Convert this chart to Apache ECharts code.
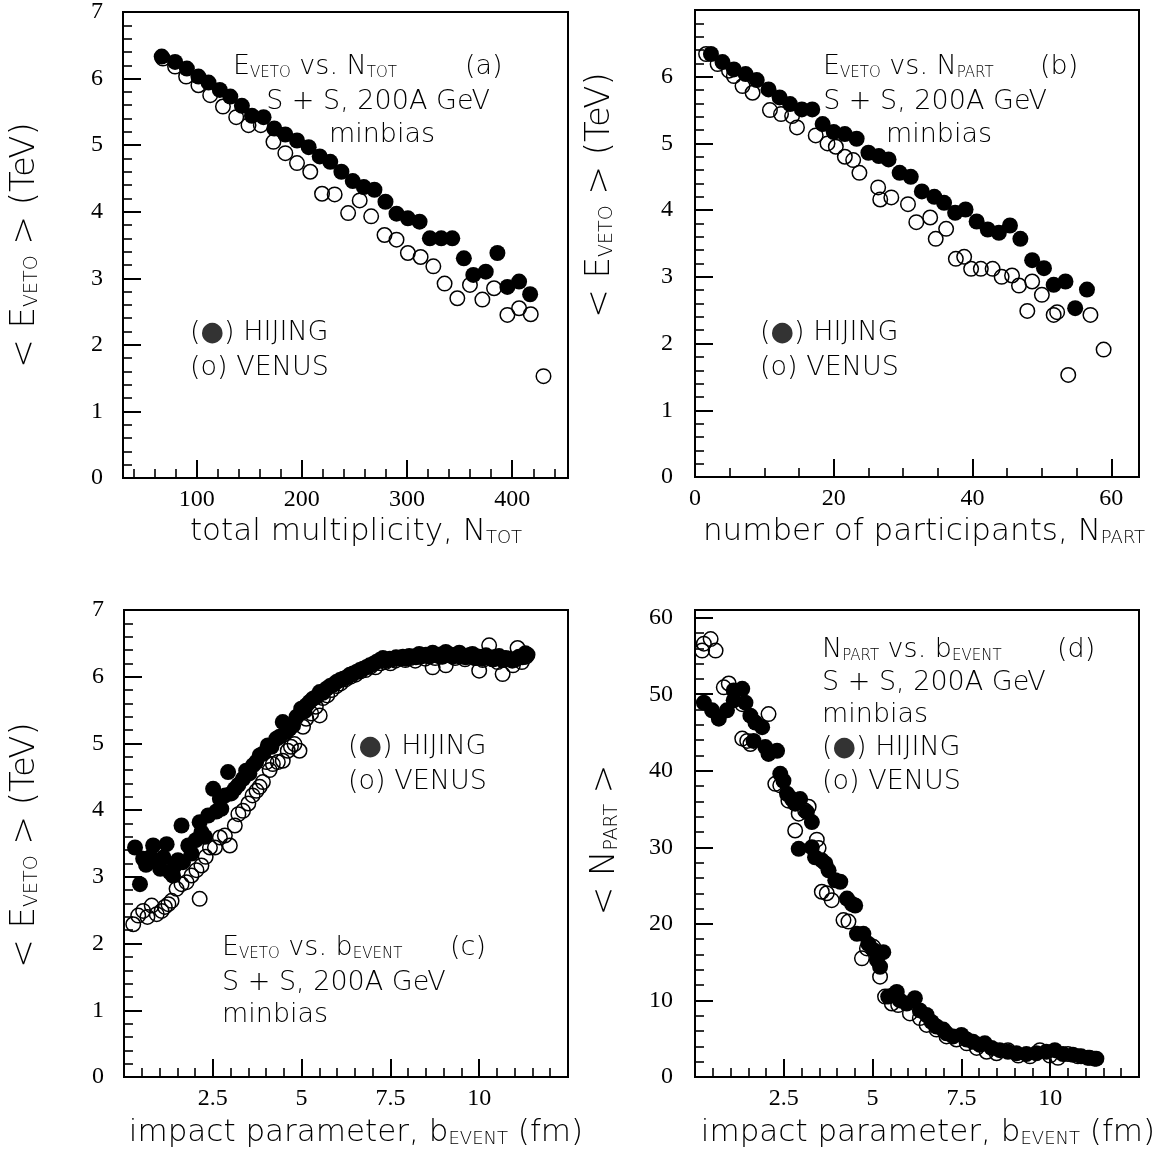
<!DOCTYPE html>
<html><head><meta charset="utf-8">
<script src="https://cdn.jsdelivr.net/npm/echarts@6/dist/echarts.min.js"></script>
<style>html,body{margin:0;padding:0;background:#fff}#c{width:1160px;height:1157px}</style>
</head><body><div id="c"></div>
<script>
// ---------- data: panel (a) <E_VETO> vs N_TOT ----------
const aHijing = [[66.8,6.33],[79.5,6.25],[90.7,6.15],[101.7,6.03],[111.3,5.94],[122,5.83],[132,5.73],[143,5.59],[152.6,5.44],[163.6,5.42],[173.8,5.25],[184.3,5.16],[195.4,5.07],[206.5,4.97],[217,4.83],[227,4.75],[237.6,4.60],[248.4,4.46],[258.9,4.37],[269,4.33],[279.5,4.15],[290,3.97],[300.8,3.90],[311.9,3.85],[321.7,3.60],[332.5,3.60],[343,3.60],[354,3.30],[363,3.05],[374.8,3.10],[385.9,3.38],[395.4,2.87],[406.5,2.95],[417,2.76]];
const aVenus = [[68,6.30],[79.5,6.18],[90,6.03],[101.7,5.90],[112.9,5.75],[125,5.58],[137.6,5.42],[149.3,5.30],[161,5.30],[173,5.05],[184.3,4.88],[195.4,4.73],[208,4.60],[219.2,4.27],[231.2,4.26],[244,3.98],[255,4.17],[265.9,3.93],[278.6,3.65],[290,3.58],[300.8,3.38],[312.9,3.32],[325,3.18],[335.7,2.92],[347.8,2.70],[359.8,2.90],[371.6,2.68],[382.7,2.85],[395.4,2.45],[406.5,2.55],[417.6,2.46],[429.7,1.53]];
// ---------- panel (b) <E_VETO> vs N_PART ----------
const bHijing = [[2.3,6.34],[3.96,6.22],[5.6,6.11],[7.3,6.04],[8.9,5.95],[10.6,5.81],[12.2,5.69],[13.7,5.59],[15.4,5.51],[16.9,5.51],[18.4,5.29],[20,5.17],[21.6,5.14],[23.3,5.07],[25,4.86],[26.5,4.81],[27.9,4.76],[29.5,4.56],[31.1,4.50],[32.7,4.28],[34.5,4.20],[35.9,4.11],[37.5,3.96],[39,4.01],[40.6,3.83],[42.2,3.71],[43.8,3.66],[45.4,3.77],[46.9,3.57],[48.6,3.25],[50.3,3.13],[51.7,2.88],[53.4,2.93],[54.8,2.53],[56.5,2.81]];
const bVenus = [[1.6,6.34],[3.26,6.19],[4.9,6.09],[5.6,6.01],[6.85,5.86],[8.3,5.76],[10.8,5.50],[12.4,5.44],[14.0,5.41],[14.7,5.24],[17.4,5.12],[19.1,5.00],[20.3,4.95],[21.6,4.80],[22.8,4.75],[23.7,4.56],[26.4,4.34],[26.7,4.16],[28.3,4.19],[30.7,4.09],[31.9,3.82],[33.9,3.89],[34.7,3.57],[36.2,3.72],[37.6,3.27],[38.8,3.30],[39.8,3.12],[41.2,3.12],[42.9,3.12],[44.2,3.00],[45.7,3.02],[46.7,2.87],[47.9,2.49],[48.6,2.93],[50.0,2.73],[51.7,2.43],[52.2,2.47],[53.8,1.53],[57.0,2.43],[58.9,1.91]];
// ---------- panel (c) <E_VETO> vs b_EVENT ----------
const cHijing = [[0.31,3.44],[0.45,2.89],[0.54,3.27],[0.62,3.18],[0.75,3.30],[0.82,3.47],[0.92,3.22],[1.02,3.12],[1.11,3.29],[1.20,3.49],[1.29,3.07],[1.38,3.02],[1.43,3.17],[1.52,3.25],[1.62,3.77],[1.66,3.22],[1.81,3.47],[1.90,3.35],[2.02,3.55],[2.13,3.82],[2.18,3.67],[2.28,3.60],[2.37,3.92],[2.51,4.32],[2.60,3.98],[2.70,4.17],[2.74,4.02],[2.85,4.22],[2.93,4.57],[3.02,4.25],[3.12,4.32],[3.22,4.38],[3.35,4.47],[3.44,4.59],[3.53,4.55],[3.63,4.67],[3.72,4.72],[3.82,4.82],[3.92,4.85],[4.05,4.97],[4.15,4.95],[4.29,5.07],[4.38,5.10],[4.47,5.32],[4.57,5.17],[4.66,5.22],[4.76,5.27],[4.86,5.40],[4.99,5.52],[5.08,5.48],[5.13,5.57],[5.22,5.62],[5.32,5.67],[5.42,5.70],[5.51,5.77],[5.60,5.76],[5.70,5.82],[5.80,5.86],[5.89,5.88],[5.98,5.92],[6.08,5.95],[6.17,5.97],[6.26,5.99],[6.36,6.03],[6.45,6.05],[6.54,6.07],[6.64,6.10],[6.73,6.12],[6.82,6.14],[6.92,6.17],[7.01,6.19],[7.10,6.22],[7.20,6.25],[7.29,6.28],[7.38,6.24],[7.48,6.27],[7.57,6.26],[7.66,6.29],[7.76,6.28],[7.85,6.30],[7.94,6.27],[8.03,6.31],[8.13,6.30],[8.22,6.29],[8.31,6.34],[8.41,6.31],[8.50,6.33],[8.59,6.30],[8.69,6.36],[8.78,6.32],[8.87,6.33],[8.97,6.30],[9.06,6.37],[9.15,6.32],[9.25,6.30],[9.34,6.33],[9.44,6.36],[9.53,6.31],[9.62,6.29],[9.72,6.32],[9.81,6.34],[9.90,6.28],[10.00,6.30],[10.09,6.27],[10.19,6.32],[10.28,6.29],[10.37,6.26],[10.47,6.30],[10.56,6.31],[10.65,6.25],[10.75,6.28],[10.84,6.27],[10.93,6.24],[11.03,6.26],[11.12,6.30],[11.22,6.29],[11.30,6.35],[11.36,6.33]];
const cVenus = [[0.26,2.29],[0.40,2.42],[0.54,2.49],[0.66,2.40],[0.78,2.57],[0.92,2.44],[1.06,2.49],[1.15,2.55],[1.25,2.59],[1.34,2.64],[1.48,2.82],[1.62,2.89],[1.76,2.92],[1.90,3.02],[2.04,3.10],[2.13,2.67],[2.18,3.17],[2.30,3.30],[2.42,3.44],[2.56,3.44],[2.70,3.59],[2.84,3.62],[2.98,3.47],[3.12,3.77],[3.22,3.94],[3.35,3.99],[3.50,4.10],[3.62,4.22],[3.73,4.29],[3.82,4.35],[3.91,4.42],[4.01,4.72],[4.10,4.60],[4.19,4.69],[4.33,4.72],[4.47,4.74],[4.61,4.89],[4.70,4.95],[4.80,4.99],[4.94,4.89],[5.04,5.25],[5.13,5.37],[5.27,5.45],[5.40,5.55],[5.51,5.42],[5.60,5.68],[5.72,5.72],[5.85,5.80],[5.98,5.86],[6.10,5.90],[6.24,5.96],[6.38,6.00],[6.52,6.03],[6.66,6.08],[6.80,6.10],[6.94,6.15],[7.08,6.14],[7.22,6.20],[7.36,6.22],[7.50,6.20],[7.64,6.24],[7.78,6.27],[7.92,6.25],[8.06,6.28],[8.20,6.24],[8.34,6.30],[8.48,6.27],[8.62,6.31],[8.69,6.14],[8.76,6.28],[8.90,6.30],[9.06,6.17],[9.18,6.33],[9.32,6.28],[9.46,6.30],[9.60,6.26],[9.74,6.32],[9.88,6.28],[10.00,6.09],[10.10,6.25],[10.28,6.47],[10.40,6.26],[10.52,6.22],[10.66,6.04],[10.80,6.26],[10.95,6.17],[11.08,6.43],[11.20,6.22],[11.32,6.30]];
// ---------- panel (d) <N_PART> vs b_EVENT ----------
const dHijing = [[0.25,48.9],[0.48,47.9],[0.67,46.8],[0.90,47.9],[1.09,49.2],[1.09,50.5],[1.33,50.7],[1.42,48.9],[1.56,47.2],[1.70,46.3],[1.65,43.9],[1.89,45.7],[1.98,43.1],[2.07,42.2],[2.31,42.6],[2.40,39.6],[2.49,38.7],[2.59,37.0],[2.73,36.3],[2.82,35.7],[2.96,36.3],[2.92,29.8],[3.15,34.6],[3.29,33.3],[3.29,30.0],[3.38,28.7],[3.57,28.3],[3.67,27.9],[3.76,27.0],[3.95,25.7],[4.09,25.5],[4.28,23.3],[4.42,22.6],[4.51,22.4],[4.56,18.7],[4.74,18.7],[4.88,17.4],[5.02,16.6],[5.12,15.3],[5.30,16.3],[5.21,14.4],[5.44,10.5],[5.58,10.7],[5.68,11.1],[5.77,10.0],[5.96,9.6],[6.19,10.3],[6.33,8.7],[6.52,8.1],[6.66,7.2],[6.80,6.6],[6.99,6.2],[7.08,5.7],[7.27,5.3],[7.50,5.5],[7.65,4.9],[7.83,4.6],[8.02,4.2],[8.16,4.4],[8.35,3.8],[8.58,3.5],[8.81,3.3],[9.05,3.1],[9.33,3.0],[9.61,3.1],[9.89,3.3],[10.13,3.5],[10.36,3.0],[10.64,2.9],[10.87,2.7],[11.11,2.5],[11.30,2.4]];
const dVenus = [[0.20,55.7],[0.25,56.6],[0.44,57.2],[0.58,55.7],[0.81,50.9],[0.95,51.4],[1.33,48.7],[1.33,44.2],[1.47,43.9],[1.56,43.5],[2.07,47.4],[2.26,38.3],[2.40,38.1],[2.63,36.1],[2.82,32.2],[2.92,34.4],[3.10,34.8],[3.20,35.3],[3.43,31.0],[3.48,29.9],[3.57,24.2],[3.71,24.0],[3.85,23.1],[4.18,20.5],[4.32,20.3],[4.70,15.5],[4.84,16.8],[5.02,17.0],[5.21,13.1],[5.35,10.5],[5.54,9.6],[5.72,9.4],[6.05,8.3],[6.33,7.7],[6.52,6.8],[6.80,6.2],[7.08,5.3],[7.36,4.9],[7.65,4.4],[7.93,3.8],[8.21,3.3],[8.49,3.1],[8.81,3.5],[9.10,2.8],[9.43,2.7],[9.71,3.5],[9.99,2.8],[10.22,2.5],[10.50,3.0],[10.78,2.7],[11.06,2.5],[11.25,2.4]];

// ---------- tick labels ----------
const aXTicks = [100, 200, 300, 400];
const bXTicks = [0, 20, 40, 60];
const cdXTicks = [2.5, 5, 7.5, 10];
const eYTicks = [0, 1, 2, 3, 4, 5, 6, 7];
const bYTicks = [0, 1, 2, 3, 4, 5, 6];
const dYTicks = [0, 10, 20, 30, 40, 50, 60];

function minors(lo, hi, step, majors) {
  const out = [];
  for (let k = 1; lo + k * step < hi - 1e-9; k++) {
    const v = +(lo + k * step).toFixed(4);
    if (!majors.some(m => Math.abs(m - v) < 1e-6)) out.push(v);
  }
  return out;
}

const panels = [
  {grid:{left:123, top:12, width:445, height:466}, x:[30,453], xt:aXTicks, xlab:aXTicks, xm:minors(20,453,20,aXTicks).filter(v=>v>30),
   y:[0,7], yt:eYTicks, ylab:eYTicks, ym:minors(0,7,0.2,eYTicks), h:aHijing, v:aVenus, ymargin:20},
  {grid:{left:695, top:10, width:444, height:467}, x:[0,64], xt:bXTicks, xlab:bXTicks, xm:minors(0,64,5,bXTicks),
   y:[0,7], yt:eYTicks, ylab:bYTicks, ym:minors(0,7,0.2,eYTicks), h:bHijing, v:bVenus, ymargin:22},
  {grid:{left:124, top:610, width:444, height:467}, x:[0,12.5], xt:cdXTicks, xlab:cdXTicks, xm:minors(0,12.5,0.5,cdXTicks),
   y:[0,7], yt:eYTicks, ylab:eYTicks, ym:minors(0,7,0.2,eYTicks), h:cHijing, v:cVenus, ymargin:20},
  {grid:{left:695, top:610, width:444, height:467}, x:[0,12.5], xt:cdXTicks, xlab:cdXTicks, xm:minors(0,12.5,0.5,cdXTicks),
   y:[0,61], yt:dYTicks, ylab:dYTicks, ym:minors(0,61,2,dYTicks), h:dHijing, v:dVenus, ymargin:22}
];

const TICKFONT = {fontFamily:'Liberation Serif', fontSize:24, color:'#000'};
const grids = [], xAxes = [], yAxes = [], series = [];
panels.forEach((p, i) => {
  grids.push(Object.assign({show:true, borderColor:'#000', borderWidth:2, backgroundColor:'transparent'}, p.grid));
  xAxes.push({gridIndex:i, type:'value', min:p.x[0], max:p.x[1], position:'bottom',
    axisLine:{show:true, onZero:false, lineStyle:{color:'#000', width:2}},
    axisTick:{show:true, inside:true, length:18, customValues:p.xt, lineStyle:{color:'#000', width:2}},
    axisLabel:Object.assign({show:true, customValues:p.xlab, margin:10}, TICKFONT),
    splitLine:{show:false}});
  xAxes.push({gridIndex:i, type:'value', min:p.x[0], max:p.x[1], position:'bottom',
    axisLine:{show:false}, axisLabel:{show:false}, splitLine:{show:false},
    axisTick:{show:true, inside:true, length:9, customValues:p.xm, lineStyle:{color:'#000', width:1.6}}});
  yAxes.push({gridIndex:i, type:'value', min:p.y[0], max:p.y[1], position:'left',
    axisLine:{show:true, onZero:false, lineStyle:{color:'#000', width:2}},
    axisTick:{show:true, inside:true, length:18, customValues:p.yt, lineStyle:{color:'#000', width:2}},
    axisLabel:Object.assign({show:true, customValues:p.ylab, margin:p.ymargin}, TICKFONT),
    splitLine:{show:false}});
  yAxes.push({gridIndex:i, type:'value', min:p.y[0], max:p.y[1], position:'left',
    axisLine:{show:false}, axisLabel:{show:false}, splitLine:{show:false},
    axisTick:{show:true, inside:true, length:9, customValues:p.ym, lineStyle:{color:'#000', width:1.6}}});
  series.push({type:'scatter', name:'VENUS', xAxisIndex:2*i, yAxisIndex:2*i, data:p.v, symbol:'circle', symbolSize:14.5,
    itemStyle:{color:'rgba(0,0,0,0)', borderColor:'#000', borderWidth:1.5, opacity:1}, silent:true, clip:false});
  series.push({type:'scatter', name:'HIJING', xAxisIndex:2*i, yAxisIndex:2*i, data:p.h, symbol:'circle', symbolSize:16,
    itemStyle:{color:'#000', opacity:1}, silent:true, clip:false});
});

// ---------- text ----------
const FONT = 'DejaVu Sans', FW = 200, COL = '#000';
function rich(size, sub, lh) {
  return {
    m:{fontSize:size, fontFamily:FONT, fontWeight:FW, fill:COL, lineHeight:size},
    s:{fontSize:sub, fontFamily:FONT, fontWeight:FW, fill:COL, lineHeight:lh, verticalAlign:'bottom'},
    b:{fontSize:Math.round(size * 1.0), fontFamily:FONT, fill:'#333', lineHeight:size}
  };
}
function T(str, x, y, opts) {
  opts = opts || {};
  const size = opts.size || 27;
  return {type:'text', x:x, y:y, rotation:opts.rot || 0, silent:true,
    style:{text:str, rich:rich(size, opts.sub || 15, opts.lh === undefined ? 1 : opts.lh), textAlign:opts.align || 'left', textVerticalAlign:'middle',
      fontSize:size, fontFamily:FONT, fontWeight:FW, fill:COL}};
}
const m = s => '{m|' + s + '}', s = t => '{s|' + t + '}';
const HIJ = m('(') + '{b|●}' + m(') HIJING');
const VEN = m('(o) VENUS');
const ROT = Math.PI / 2;
const TT = {size:31, sub:18, lh:3, align:'center'};
const YT = {size:34, sub:19, lh:3, align:'center', rot:ROT};
const graphics = [
  // panel a
  T(m('E') + s('VETO') + m(' vs. N') + s('TOT'), 233, 67),
  T(m('(a)'), 465, 67),
  T(m('S + S, 200A GeV'), 378, 102, {align:'center'}),
  T(m('minbias'), 382, 135, {align:'center'}),
  T(HIJ, 190, 333),
  T(VEN, 190, 368),
  // panel b
  T(m('E') + s('VETO') + m(' vs. N') + s('PART'), 823, 67),
  T(m('(b)'), 1040, 67),
  T(m('S + S, 200A GeV'), 935, 102, {align:'center'}),
  T(m('minbias'), 939, 135, {align:'center'}),
  T(HIJ, 760, 333),
  T(VEN, 760, 368),
  // panel c
  T(HIJ, 348, 747),
  T(VEN, 348, 782),
  T(m('E') + s('VETO') + m(' vs. b') + s('EVENT'), 222, 948),
  T(m('(c)'), 450, 948),
  T(m('S + S, 200A GeV'), 222, 983),
  T(m('minbias'), 222, 1015),
  // panel d
  T(m('N') + s('PART') + m(' vs. b') + s('EVENT'), 822, 650),
  T(m('(d)'), 1057, 650),
  T(m('S + S, 200A GeV'), 822, 683),
  T(m('minbias'), 822, 715),
  T(HIJ, 822, 748),
  T(VEN, 822, 782),
  // axis titles
  T(m('total multiplicity, N') + s('TOT'), 356, 532, TT),
  T(m('number of participants, N') + s('PART'), 924, 532, TT),
  T(m('impact parameter, b') + s('EVENT') + m(' (fm)'), 356, 1133, TT),
  T(m('impact parameter, b') + s('EVENT') + m(' (fm)'), 928, 1133, TT),
  T(m('< E') + s('VETO') + m(' > (TeV)'), 25, 245, YT),
  T(m('< E') + s('VETO') + m(' > (TeV)'), 600, 195, YT),
  T(m('< E') + s('VETO') + m(' > (TeV)'), 25, 845, YT),
  T(m('< N') + s('PART') + m(' >'), 605, 840, YT)
];

const chart = echarts.init(document.getElementById('c'), null, {renderer:'canvas'});
chart.setOption({
  animation:false,
  backgroundColor:'#fff',
  grid:grids, xAxis:xAxes, yAxis:yAxes, series:series,
  graphic:graphics
});
</script></body></html>
